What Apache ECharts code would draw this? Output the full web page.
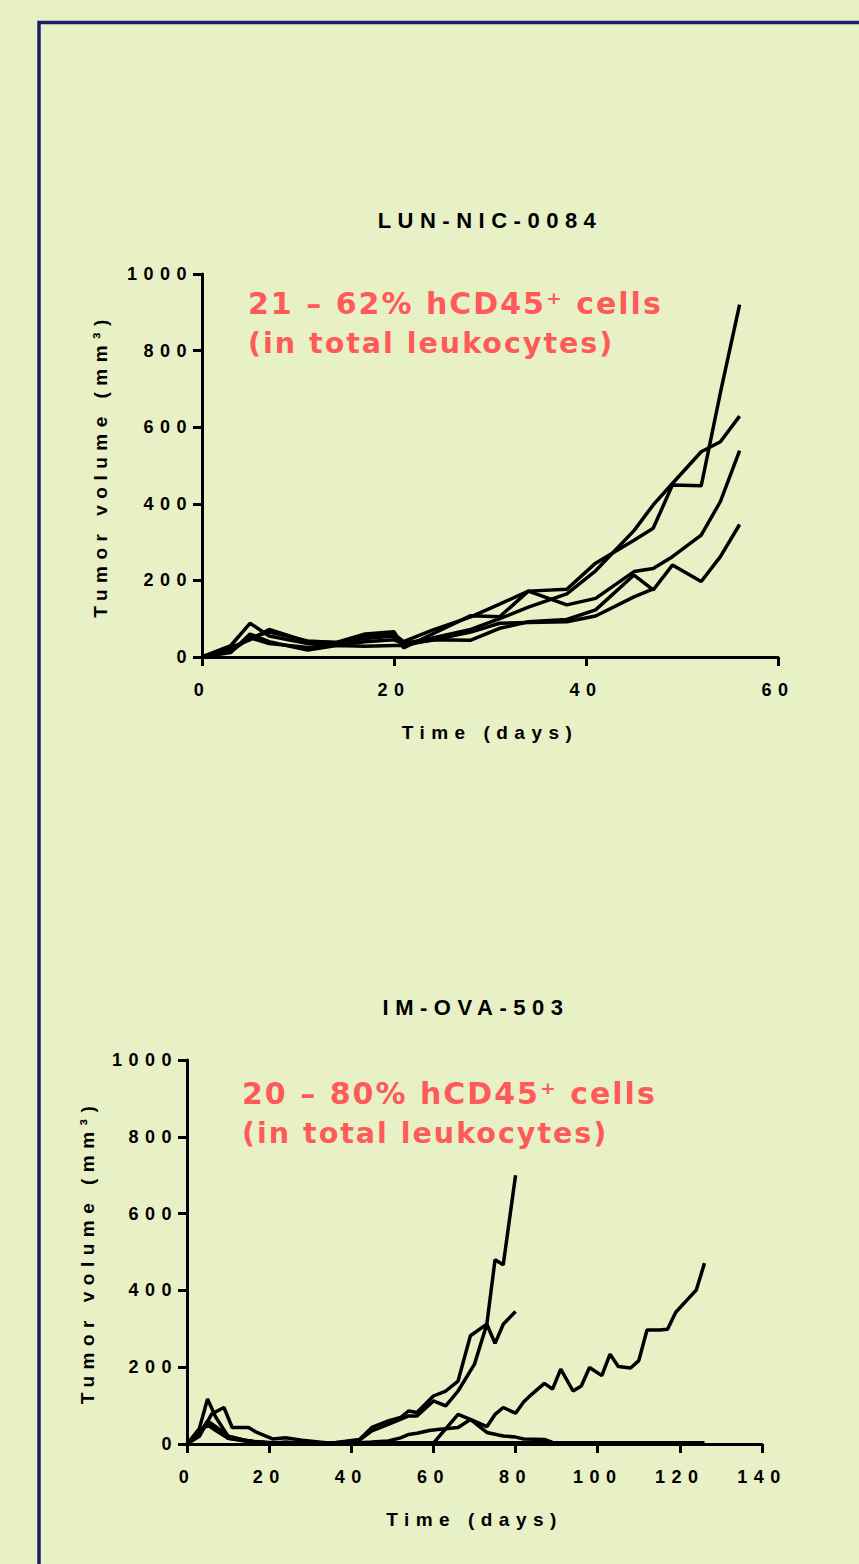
<!DOCTYPE html>
<html><head><meta charset="utf-8">
<script src="https://cdn.jsdelivr.net/npm/echarts@6/dist/echarts.min.js"></script>
<style>
html,body{margin:0;padding:0;background:#e8f0c6;}
#c{width:859px;height:1564px;}
#c text{letter-spacing:6.5px;}
#c text[fill="#ff5a5a"], #c text[style*="30px"], #c text[style*="28.5px"]{letter-spacing:2px;}
</style></head><body><div id="c"></div>
<script>
// ---------- Chart 1: LUN-NIC-0084 ----------
const title1 = 'LUN-NIC-0084';
const note1a = '21 – 62% hCD45⁺ cells';
const note1b = '(in total leukocytes)';
const days1 = [0,3,5,7,11,14,17,20,21,24,28,31,34,38,41,45,47,49,52,54,56];
const lunA = [0,30,88,55,35,35,55,60,40,70,105,138,172,177,245,305,336,449,447,690,920];
const lunB = [0,15,50,65,42,38,48,55,35,50,72,100,130,165,225,330,397,453,536,562,629];
const lunC = [0,25,45,72,40,38,60,66,24,60,108,105,172,136,153,223,231,262,318,406,539];
const lunD = [0,12,60,40,18,30,28,30,30,45,44,75,92,98,123,214,175,240,197,262,346];
const lunE = [0,20,50,35,25,32,40,45,35,44,65,88,90,92,107,157,178,null,null,null,null];
const xTicks1 = [0,20,40,60];
const yTicks = [0,200,400,600,800,1000];

// ---------- Chart 2: IM-OVA-503 ----------
const title2 = 'IM-OVA-503';
const note2a = '20 – 80% hCD45⁺ cells';
const note2b = '(in total leukocytes)';
const daysF = [0,3,5,7,10,14,17,21,24,28,35,42,45,49,54,56,60,63,66,70,73,75,77,80];
const imoF  = [0,40,117,70,20,10,5,2,2,2,2,10,34,51,73,73,112,99,138,208,312,480,467,700];
const daysG = [0,3,6,9,11,15,17,21,24,28,35,42,45,49,52,54,56,60,63,66,69,73,75,77,80];
const imoG  = [0,20,78,95,43,43,30,13,16,10,2,12,43,60,69,86,82,125,138,164,282,312,262,312,345];
const daysH = [0,3,5,7,10,14,17,21,28,35,42,49,56,60,66,69,73,75,77,80,82,84,87,89,91,94,96,98,101,103,105,108,110,112,115,117,119,122,124,126];
const imoH  = [0,30,56,40,15,10,5,2,2,2,2,2,2,2,77,64,45,77,95,80,110,130,158,143,195,138,151,199,178,234,202,198,217,297,297,299,343,378,401,471];
const daysI = [0,3,5,7,10,14,17,21,24,28,35,42,45,49,52,54,56,59,61,63,66,69,73,77,80,82,87,89,91,95,101];
const imoI  = [0,25,60,45,20,10,5,2,5,2,2,3,5,8,16,25,28,35,38,40,43,64,30,21,18,13,12,4,3,3,3];
const daysJ = [0,3,5,7,10,14,21,28,42,56,70,84,98,112,126];
const imoJ  = [0,30,50,35,15,8,3,3,3,3,3,3,3,3,3];
const xTicks2 = [0,20,40,60,80,100,120,140];

const FONT = '"Liberation Sans", Arial, sans-serif';
const RFONT = '"DejaVu Sans", Verdana, sans-serif';
const RED = '#ff5a5a';

function pairs(days, vals){
  const out = [];
  days.forEach((d,i)=>{ if (vals[i] !== null) out.push([d, vals[i]]); });
  return out;
}
function lineSeries(idx, days, vals){
  return {type:'line', xAxisIndex:idx, yAxisIndex:idx, data:pairs(days, vals),
    symbol:'none', showSymbol:false, lineStyle:{color:'#000', width:3.5}, silent:true, animation:false};
}
const axisCommon = {
  axisLine:{show:true, onZero:false, lineStyle:{color:'#000', width:3}},
  axisTick:{show:true, length:9, lineStyle:{color:'#000', width:3}},
  splitLine:{show:false},
  nameTextStyle:{color:'#000', fontFamily:FONT, fontWeight:'bold', fontSize:19},
};
function xAxis(idx, ticks){
  return Object.assign({}, axisCommon, {
    type:'value', gridIndex:idx, min:ticks[0], max:ticks[ticks.length-1], interval:ticks[1]-ticks[0],
    axisLabel:{color:'#000', fontFamily:FONT, fontWeight:'bold', fontSize:18, margin:24,
               formatter:(v)=>String(v)},
    name:'Time (days)', nameLocation:'middle', nameGap:66
  });
}
function yAxis(idx, gap){
  return Object.assign({}, axisCommon, {
    type:'value', gridIndex:idx, min:yTicks[0], max:yTicks[yTicks.length-1], interval:yTicks[1]-yTicks[0],
    axisLabel:{color:'#000', fontFamily:FONT, fontWeight:'bold', fontSize:18, margin:9,
               formatter:(v)=>String(v)},
    name:'Tumor volume (mm³)', nameLocation:'middle', nameGap:gap, nameRotate:90
  });
}
function txt(x, y, text, font, fill, align){
  return {type:'text', x:x, y:y, silent:true,
    style:{text:text, font:font, fill:fill, align:align, textAlign:align,
           verticalAlign:'top', textVerticalAlign:'top'}};
}

const chart = echarts.init(document.getElementById('c'), null, {renderer:'svg'});
chart.setOption({
  backgroundColor:'#e8f0c6',
  animation:false,
  grid:[
    {left:202, top:274, width:576, height:383},
    {left:187, top:1060, width:575, height:384}
  ],
  xAxis:[xAxis(0, xTicks1), xAxis(1, xTicks2)],
  yAxis:[yAxis(0, 92), yAxis(1, 90)],
  series:[
    lineSeries(0, days1, lunA), lineSeries(0, days1, lunB), lineSeries(0, days1, lunC),
    lineSeries(0, days1, lunD), lineSeries(0, days1, lunE),
    lineSeries(1, daysF, imoF), lineSeries(1, daysG, imoG), lineSeries(1, daysH, imoH),
    lineSeries(1, daysI, imoI), lineSeries(1, daysJ, imoJ)
  ],
  graphic:[
    {type:'rect', silent:true, z:-1, shape:{x:39, y:22.5, width:1000, height:1700},
     style:{fill:'none', stroke:'#1c1f6e', lineWidth:3.5}},
    txt(490, 209, title1, 'bold 22px ' + FONT, '#000', 'center'),
    txt(476, 996, title2, 'bold 22px ' + FONT, '#000', 'center'),
    txt(248, 288, note1a, 'bold 30px ' + RFONT, RED, 'left'),
    txt(248, 329, note1b, 'bold 28.5px ' + RFONT, RED, 'left'),
    txt(242, 1078, note2a, 'bold 30px ' + RFONT, RED, 'left'),
    txt(242, 1119, note2b, 'bold 28.5px ' + RFONT, RED, 'left')
  ]
});
</script></body></html>
